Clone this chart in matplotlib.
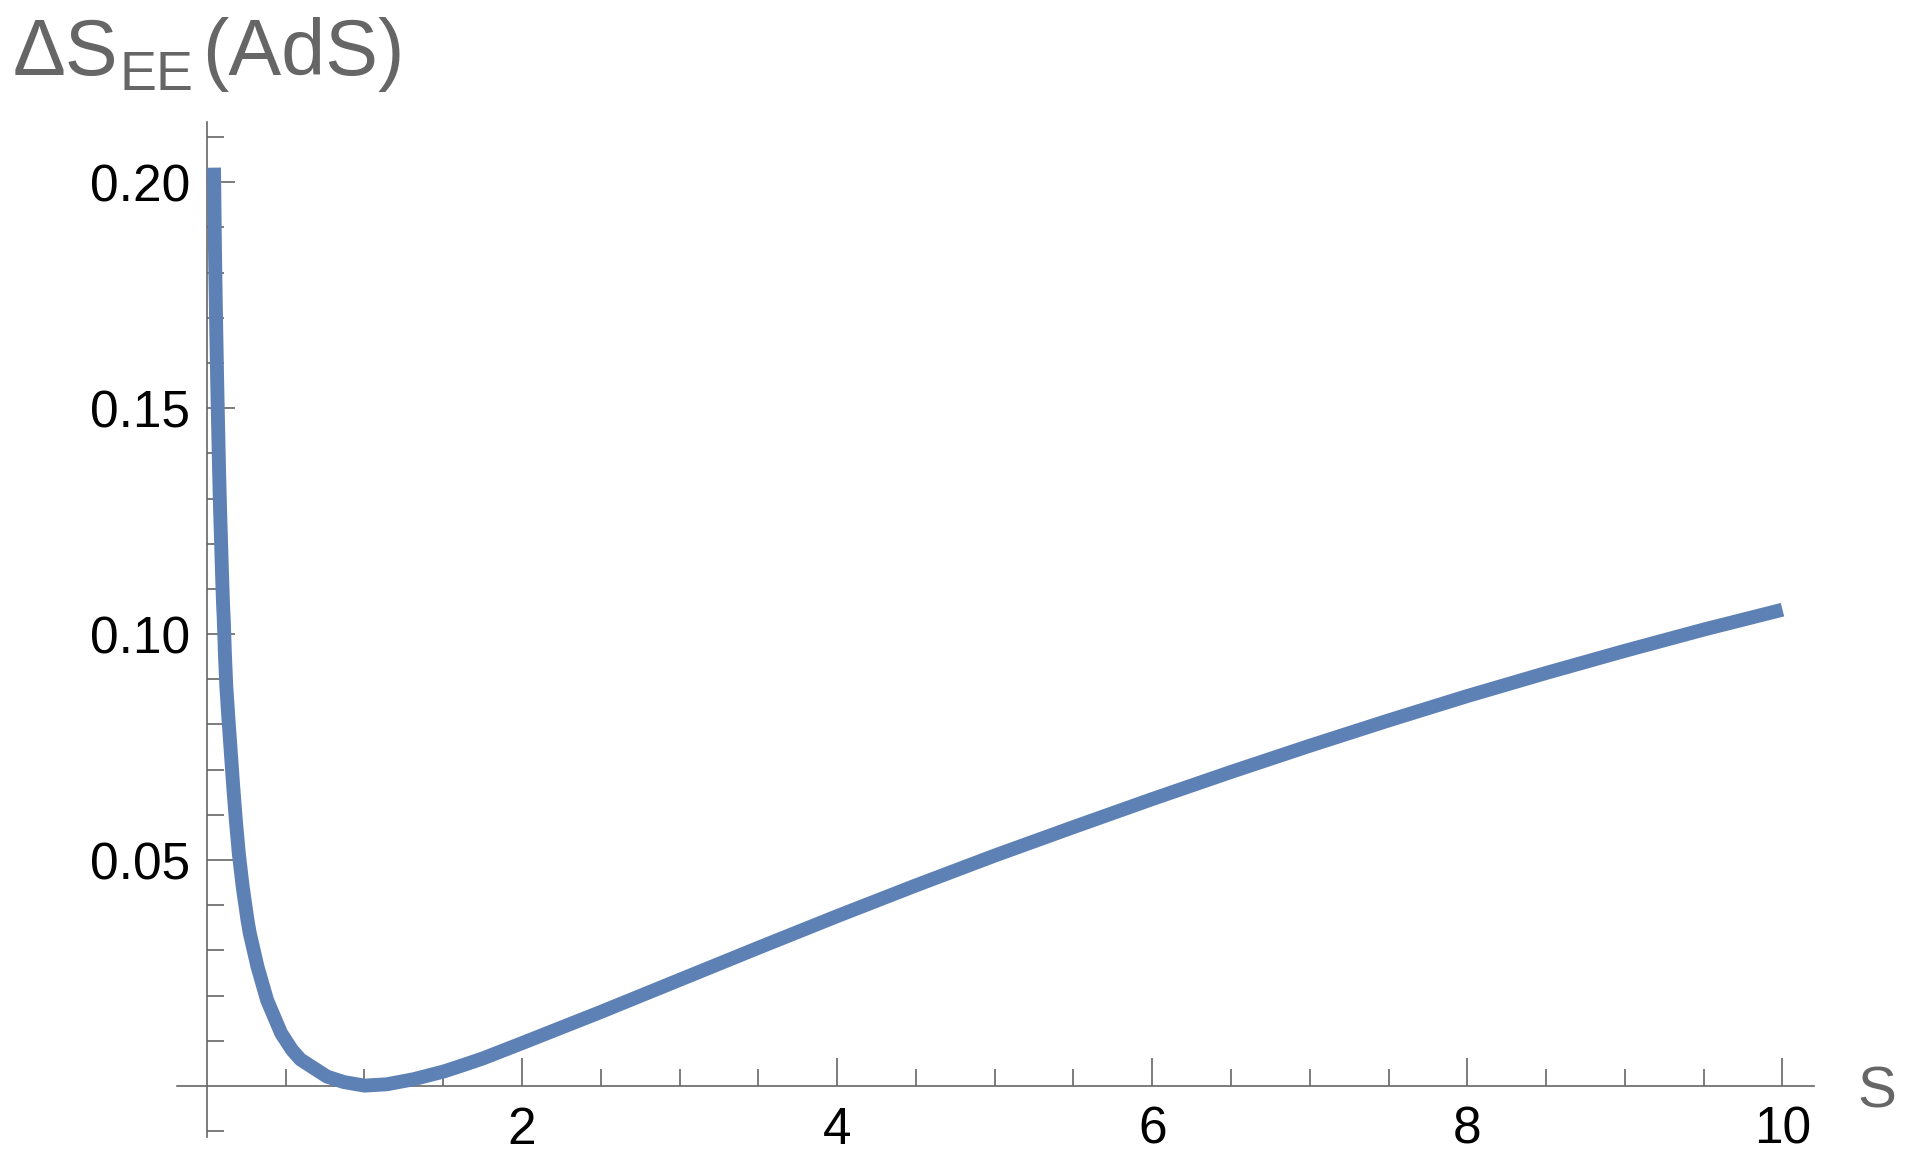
import numpy as np
import matplotlib.pyplot as plt
from matplotlib.ticker import FixedLocator, NullFormatter

# valores
s_vals = [0.045, 0.051, 0.058, 0.0645, 0.071, 0.077, 0.0835, 0.090, 0.096, 0.102,
          0.107, 0.114, 0.123, 0.137, 0.152, 0.167, 0.1835, 0.2025, 0.227, 0.2575,
          0.272, 0.321, 0.382, 0.471, 0.540, 0.593, 0.762, 0.868, 1.0, 1.142,
          1.31, 1.5, 1.606, 1.75, 2.0, 2.5, 3.0, 3.5, 4.0, 4.5, 5.0, 5.5,
          6.0, 6.5, 7.0, 7.5, 8.0, 8.5, 9.0, 9.5, 10.0]
dS_vals = [0.2032, 0.1850, 0.1695, 0.1569, 0.1459, 0.1363, 0.1274, 0.1201, 0.1131, 0.1068,
           0.1031, 0.0957, 0.0884, 0.0810, 0.0736, 0.0662, 0.0588, 0.0514, 0.0441, 0.0367,
           0.0338, 0.0264, 0.0190, 0.0117, 0.0080, 0.0059, 0.0021, 0.0009, 0.0001, 0.0004,
           0.0015, 0.0032, 0.0044, 0.0061, 0.0095, 0.0164, 0.0235, 0.0306, 0.0376, 0.0444,
           0.0510, 0.0573, 0.0635, 0.0695, 0.0753, 0.0809, 0.0863, 0.0914, 0.0963, 0.1010,
           0.1054]

x_major = [2, 4, 6, 8, 10]
x_minor = [0.5, 1, 1.5, 2.5, 3, 3.5, 4.5, 5, 5.5, 6.5, 7, 7.5, 8.5, 9, 9.5]
y_major = [0.05, 0.10, 0.15, 0.20]
y_major_labels = ["0.05", "0.10", "0.15", "0.20"]
y_minor = [-0.01, 0.01, 0.02, 0.03, 0.04, 0.06, 0.07, 0.08, 0.09, 0.11, 0.12,
           0.13, 0.14, 0.16, 0.17, 0.18, 0.19, 0.21]

cor_linha = '#5E81B5'
cinza = '#666666'

plt.rcParams['font.family'] = ['Liberation Sans', 'DejaVu Sans']

W, H = 1905, 1164
fig = plt.figure(figsize=(W / 100, H / 100), dpi=100)
ax = fig.add_axes([177 / W, 1 - 1136.7 / H, (1814 - 177) / W, (1136.7 - 122) / H])

ax.plot(s_vals, dS_vals, color=cor_linha, lw=10, solid_capstyle='butt',
        solid_joinstyle='round', zorder=2)

ax.set_xlim(-0.19, 10.2)
ax.set_ylim(-0.0112, 0.2133)

# eixos no estilo Mathematica, cruzando na origem
for lado in ['top', 'right']:
    ax.spines[lado].set_visible(False)
for lado in ['left', 'bottom']:
    ax.spines[lado].set_position(('data', 0))
    ax.spines[lado].set_color(cinza)
    ax.spines[lado].set_linewidth(1.2)
    ax.spines[lado].set_zorder(1)

ax.xaxis.set_major_locator(FixedLocator(x_major))
ax.xaxis.set_minor_locator(FixedLocator(x_minor))
ax.yaxis.set_major_locator(FixedLocator(y_major))
ax.yaxis.set_minor_locator(FixedLocator(y_minor))
ax.set_yticklabels(y_major_labels)
ax.xaxis.set_minor_formatter(NullFormatter())
ax.yaxis.set_minor_formatter(NullFormatter())

ax.tick_params(which='both', direction='in', color=cinza, width=1.2,
               labelsize=37, labelcolor='black')
ax.tick_params(which='major', length=20)
ax.tick_params(which='minor', length=12)
ax.tick_params(axis='x', which='major', pad=14)
ax.tick_params(axis='y', which='major', pad=12)

# titulo do eixo y em pedacos (subscrito maior que o do mathtext)
fig.text(13 / W, 1 - 75 / H, '\u0394S', color=cinza, fontsize=57, va='baseline')
fig.text(120 / W, 1 - 90 / H, 'EE', color=cinza, fontsize=40, va='baseline')
fig.text(202 / W, 1 - 75 / H, '(AdS)', color=cinza, fontsize=57, va='baseline')
fig.text(1877 / W, 1 - 1093 / H, 'S', color=cinza, fontsize=42,
         ha='center', va='center')

fig.savefig('out.png', dpi=100)
